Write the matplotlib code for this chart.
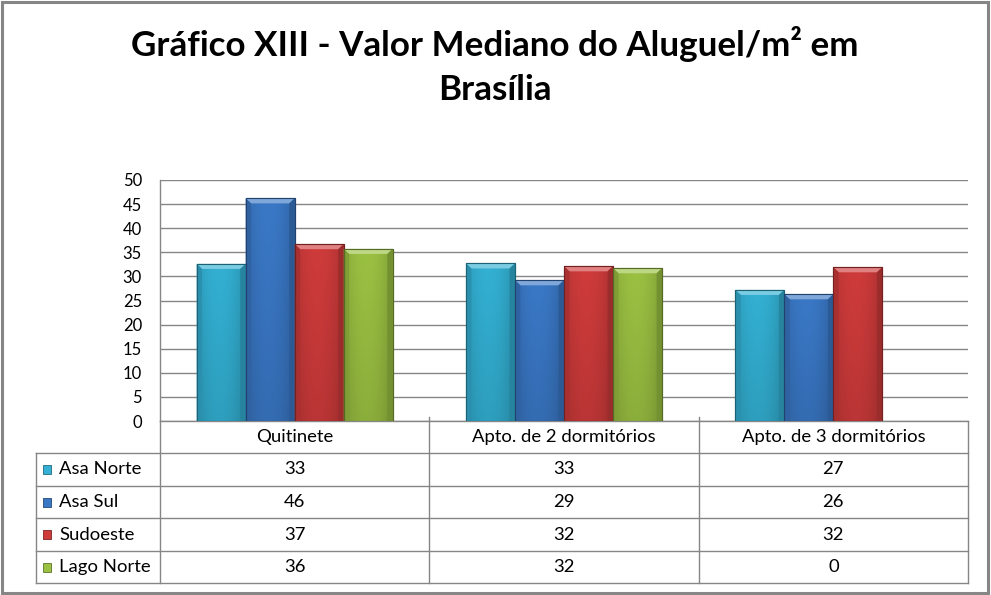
import numpy as np
import matplotlib
matplotlib.use("Agg")
import matplotlib.pyplot as plt
from matplotlib.patches import Rectangle, Polygon
from matplotlib.colors import to_rgb
import matplotlib.transforms as mtransforms

plt.rcParams['font.family'] = ['Lato', 'DejaVu Sans']

# ---------------- data ----------------
title = "Gráfico XIII - Valor Mediano do Aluguel/m² em\nBrasília"
categories = ["Quitinete", "Apto. de 2 dormitórios", "Apto. de 3 dormitórios"]
series = ["Asa Norte", "Asa Sul", "Sudoeste", "Lago Norte"]
asa_norte = [32.6, 32.7, 27.2]
asa_sul = [46.2, 29.2, 26.3]
sudoeste = [36.7, 32.1, 31.9]
lago_norte = [35.7, 31.7, 0.0]
table_asa_norte = ["33", "33", "27"]
table_asa_sul = ["46", "29", "26"]
table_sudoeste = ["37", "32", "32"]
table_lago_norte = ["36", "32", "0"]
yticks = [0, 5, 10, 15, 20, 25, 30, 35, 40, 45, 50]

values = [asa_norte, asa_sul, sudoeste, lago_norte]
table_vals = [table_asa_norte, table_asa_sul, table_sudoeste, table_lago_norte]
base_colors = ["#33B0D3", "#3A78C6", "#CF3B3B", "#9BC142"]

W, H = 991, 595
fig = plt.figure(figsize=(W / 100, H / 100), dpi=100)
fig.patch.set_facecolor("white")

# outer border
fig.add_artist(Rectangle((1.5 / W, 2 / H), (W - 4.5) / W, (H - 4) / H,
                         transform=fig.transFigure, fill=False,
                         edgecolor="#868686", linewidth=2.2))

fig.text(495 / W, 1 - 66 / H, title, ha="center", va="center",
         fontsize=25.2, fontweight="bold", linespacing=1.47, color="black")

# plot area
x0, x1, y0, y1 = 160, 968, 421, 180
ax = fig.add_axes([x0 / W, 1 - y0 / H, (x1 - x0) / W, (y0 - y1) / H])
ax.set_facecolor("white")
ncat = len(categories)
x = np.arange(ncat)
bw = 0.182


def mix(c, t, amt):
    c = np.array(to_rgb(c)); t = np.array(to_rgb(t))
    return tuple(c + (t - c) * amt)


for i, (vals, col) in enumerate(zip(values, base_colors)):
    pos = x + (i - 1.5) * bw
    bars = ax.bar(pos, vals, bw, color=col, edgecolor=mix(col, "black", 0.45),
                  linewidth=0.8, zorder=3)
    for rect in bars:
        bx, bwid, bh = rect.get_x(), rect.get_width(), rect.get_height()
        if bh <= 0:
            rect.set_visible(False)
            continue
        # gradient shading
        nx, ny = 60, 40
        tx = np.linspace(0, 1, nx)
        ty = np.linspace(0, 1, ny)[:, None]
        hshade = 1.0 - 0.18 * (np.abs(tx - 0.45) / 0.55) ** 2
        vshade = 0.9 + 0.1 * ty
        shade = (hshade[None, :] * vshade)[..., None]
        rgb = np.array(to_rgb(col))[None, None, :] * shade
        im = ax.imshow(np.clip(rgb, 0, 1), extent=[bx, bx + bwid, 0, bh],
                       origin="lower", aspect="auto", zorder=3.5,
                       interpolation="bilinear")
        im.set_clip_path(rect)
        dx = 0.02
        dy = 1.05
        top = Polygon([(bx, bh), (bx + bwid, bh), (bx + bwid - dx, bh - dy),
                       (bx + dx, bh - dy)], closed=True,
                      facecolor=mix(col, "white", 0.35), edgecolor="none", zorder=4)
        left = Polygon([(bx, bh), (bx + dx, bh - dy), (bx + dx, 0), (bx, 0)],
                       closed=True, facecolor=mix(col, "black", 0.18),
                       edgecolor="none", zorder=4)
        right = Polygon([(bx + bwid, bh), (bx + bwid - dx, bh - dy),
                         (bx + bwid - dx, 0), (bx + bwid, 0)], closed=True,
                        facecolor=mix(col, "black", 0.25), edgecolor="none", zorder=4)
        for p in (top, left, right):
            ax.add_patch(p)
        ax.add_patch(Rectangle((bx, 0), bwid, bh, fill=False,
                               edgecolor=mix(col, "black", 0.45), linewidth=0.8,
                               zorder=4.5))

ax.set_xlim(-0.5, ncat - 0.5)
ax.set_ylim(0, 50)
ax.set_yticks(yticks)
ax.set_yticklabels([str(t) for t in yticks], fontsize=12)
ax.tick_params(axis="y", length=0, pad=13)
ax.set_xticks([])
ax.yaxis.grid(True, color="#868686", linewidth=1.0, zorder=0)
ax.set_axisbelow(True)
for s in ["top", "right", "bottom"]:
    ax.spines[s].set_visible(False)
ax.spines["left"].set_color("#868686")
ax.spines["left"].set_linewidth(1.0)

# ---------------- data table ----------------
lc = "#868686"
fs = 13.3
trans = mtransforms.blended_transform_factory(ax.transData, fig.transFigure)
row_edges_px = [421, 453, 486, 518, 551, 583]
ry = [1 - r / H for r in row_edges_px]
cat_px = (x1 - x0) / ncat
label_left = -0.5 + (36 - x0) / cat_px

# horizontal lines
ax.plot([-0.5, ncat - 0.5], [ry[0], ry[0]], transform=trans, color=lc, lw=1.0, clip_on=False)
for r in ry[1:]:
    ax.plot([label_left, ncat - 0.5], [r, r], transform=trans, color=lc, lw=1.0, clip_on=False)
# vertical lines
for cx in np.arange(ncat + 1) - 0.5:
    top_y = ry[0] + 4 / H if 0 < cx < ncat - 0.5 else ry[0]
    ax.plot([cx, cx], [top_y, ry[-1]], transform=trans, color=lc, lw=1.0, clip_on=False)
ax.plot([label_left, label_left], [ry[1], ry[-1]], transform=trans, color=lc, lw=1.0, clip_on=False)

# header
for j, c in enumerate(categories):
    ax.text(j, (ry[0] + ry[1]) / 2, c, transform=trans, ha="center", va="center",
            fontsize=fs, clip_on=False)

key_w = 8 / cat_px
for i, name in enumerate(series):
    yc = (ry[i + 1] + ry[i + 2]) / 2
    kx = label_left + 7 / cat_px
    ax.add_patch(Rectangle((kx, yc - 4.5 / H), key_w, 9 / H, transform=trans,
                           facecolor=base_colors[i],
                           edgecolor=mix(base_colors[i], "black", 0.4),
                           linewidth=0.6, clip_on=False))
    ax.text(label_left + 23 / cat_px, yc, name, transform=trans,
            ha="left", va="center", fontsize=fs, clip_on=False)
    for j in range(ncat):
        ax.text(j, yc, table_vals[i][j], transform=trans, ha="center", va="center",
                fontsize=fs, clip_on=False)

fig.savefig("out.png", dpi=100)
